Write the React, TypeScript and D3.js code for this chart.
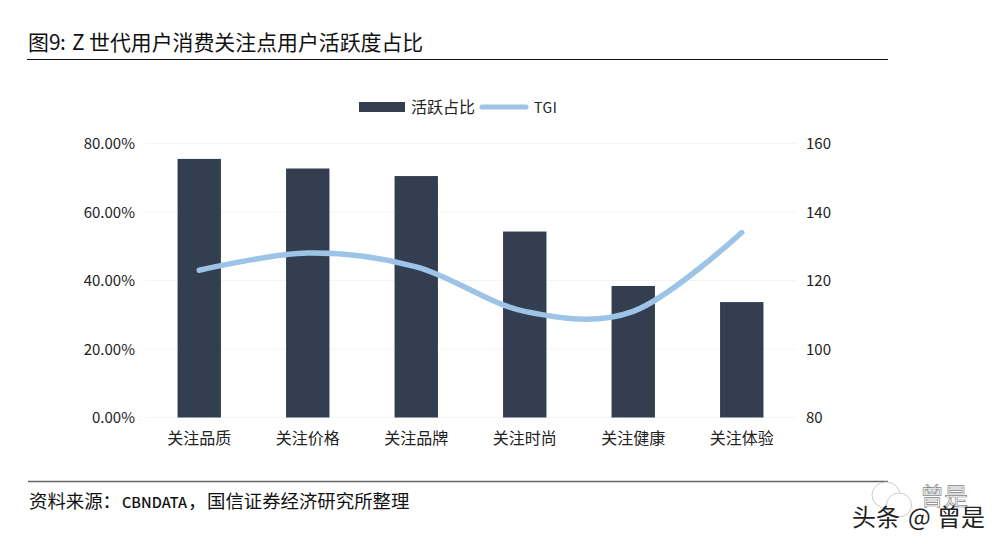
import React from "react";
import * as d3 from "d3";

const categories = ["关注品质", "关注价格", "关注品牌", "关注时尚", "关注健康", "关注体验"];
const activeShare = [75.5, 72.7, 70.5, 54.3, 38.4, 33.7];
const tgi = [123, 128, 124, 111, 111, 134];
const leftTicks = [0, 20, 40, 60, 80];
const rightTicks = [80, 100, 120, 140, 160];

const CJK = "'Noto Sans CJK SC', sans-serif";

export default function App() {
  const x = d3.scaleBand<string>().domain(categories).range([145, 796]).paddingInner(0.6).paddingOuter(0.3);
  const yL = d3.scaleLinear().domain([0, 80]).range([417.5, 143.5]);
  const yR = d3.scaleLinear().domain([80, 160]).range([417.5, 143.5]);
  const cx = (c: string) => (x(c) as number) + x.bandwidth() / 2;
  const line = d3
    .line<number>()
    .x((_, i) => cx(categories[i]))
    .y((d) => yR(d))
    .curve(d3.curveCatmullRom.alpha(0));
  return (
    <svg
      width={1001}
      height={545}
      style={{ position: "absolute", left: 0, top: 0, background: "#fff" }}
    >
      <text y={50} fontFamily={CJK} fontSize={20.9} fill="#111">
        <tspan x={28}>图</tspan>
        <tspan x={49}>9</tspan>
        <tspan x={60}>:</tspan>
        <tspan x={72}>Z</tspan>
        <tspan x={89}>世代用户消费关注点用户活跃度占比</tspan>
      </text>
      <line x1={27} x2={888} y1={59.5} y2={59.5} stroke="#111" strokeWidth={1} />

      <rect x={359} y={102} width={46} height={10} fill="#333f50" />
      <text x={411} y={113} fontFamily={CJK} fontSize={16} fill="#222">活跃占比</text>
      <line x1={482} x2={526} y1={107} y2={107} stroke="#9dc3e6" strokeWidth={5} strokeLinecap="round" />
      <text x={534} y={112.5} fontFamily={CJK} fontSize={14} fill="#222" letterSpacing={0.6}>TGI</text>

      {leftTicks.map((t) => (
        <g key={t}>
          <line x1={145} x2={796} y1={yL(t)} y2={yL(t)} stroke="#f4f4f4" strokeWidth={1} />
          <text x={135} y={yL(t) + 5.5} textAnchor="end" fontFamily={CJK} fontSize={15} fill="#222">
            {t.toFixed(2)}%
          </text>
        </g>
      ))}
      {rightTicks.map((t) => (
        <text key={t} x={806} y={yR(t) + 5.5} fontFamily={CJK} fontSize={15} fill="#222">
          {t}
        </text>
      ))}
      {categories.map((c, i) => (
        <g key={c}>
          <rect
            x={x(c)}
            y={yL(activeShare[i])}
            width={x.bandwidth()}
            height={yL(0) - yL(activeShare[i])}
            fill="#333f50"
          />
          <text x={cx(c)} y={444} textAnchor="middle" fontFamily={CJK} fontSize={16} fill="#222">
            {c}
          </text>
        </g>
      ))}
      <path d={line(tgi) as string} fill="none" stroke="#9dc3e6" strokeWidth={5.5} strokeLinecap="round" />

      <line x1={28} x2={888} y1={481.5} y2={481.5} stroke="#666" strokeWidth={1.4} />
      <text y={508} fontFamily={CJK} fontSize={18.4} fill="#111">
        <tspan x={29}>资料来源：</tspan>
        <tspan x={122} fontSize={14.5} fontWeight={500}>CBNDATA</tspan>
        <tspan x={188}>，</tspan>
        <tspan x={207}>国信证券经济研究所整理</tspan>
      </text>

      <g fill="#fff" stroke="#ccc" strokeWidth={1}>
        <ellipse cx={886} cy={495} rx={14} ry={13} />
        <ellipse cx={899} cy={505} rx={12.5} ry={12} />
      </g>
      <text x={920} y={505} fontFamily={CJK} fontSize={24} fill="#fff" stroke="#888" strokeWidth={0.7}>
        曾是
      </text>
      <text y={526} fontFamily={CJK} fontSize={24} fill="#222">
        <tspan x={852}>头条</tspan>
        <tspan x={908}>@</tspan>
        <tspan x={937}>曾是</tspan>
      </text>
    </svg>
  );
}
